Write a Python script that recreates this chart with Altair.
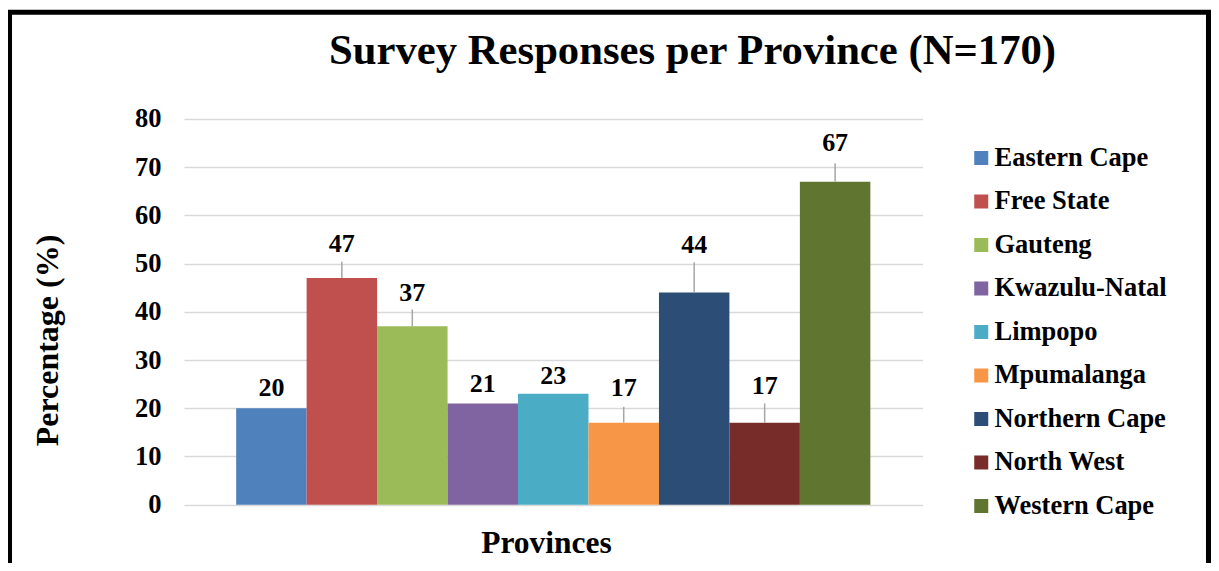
import altair as alt
import pandas as pd

provinces = ["Eastern Cape", "Free State", "Gauteng", "Kwazulu-Natal", "Limpopo",
             "Mpumalanga", "Northern Cape", "North West", "Western Cape"]
values = [20, 47, 37, 21, 23, 17, 44, 17, 67]
label_y = [22.6, 52.4, 42.3, 23.4, 25.0, 22.6, 52.2, 23.0, 73.3]
leader_top = [None, 50.4, 40.5, None, None, 20.3, 50.3, 21.0, 70.8]
colors = ["#4F81BD", "#C0504D", "#9BBB59", "#8064A2", "#4BACC6",
          "#F79646", "#2C4D75", "#772C2A", "#5F7530"]
title_text = "Survey Responses per Province (N=170)"
y_ticks = [0, 10, 20, 30, 40, 50, 60, 70, 80]

FONT = "Liberation Serif"

df = pd.DataFrame({
    "province": provinces,
    "value": values,
    "label_y": label_y,
    "leader_top": leader_top,
})

x_enc = alt.X("province:N", sort=provinces,
              scale=alt.Scale(paddingInner=0, paddingOuter=0.74),
              axis=alt.Axis(labels=False, ticks=False, domain=False, grid=False,
                            title="Provinces", titleFont=FONT, titleFontSize=31.5,
                            titleFontWeight="bold", titleColor="black",
                            titleX=362, titleY=48, titleBaseline="alphabetic",
                            titleAlign="center"))

y_enc = alt.Y("value:Q", scale=alt.Scale(domain=[0, 80], nice=False),
              axis=alt.Axis(values=y_ticks, grid=True, gridColor="#D9D9D9",
                            gridWidth=1.5, domain=False, ticks=False, tickSize=0,
                            labelFont=FONT, labelFontSize=26.5, labelFontWeight="bold",
                            labelColor="black", labelPadding=23,
                            title="Percentage (%)", titleFont=FONT, titleFontSize=32,
                            titleFontWeight="bold", titleColor="black",
                            titleAngle=270, titleX=-127, titleY=221,
                            titleAlign="center", titleBaseline="alphabetic"))

base = alt.Chart(df)

bars = base.mark_bar(stroke=None).encode(
    x=x_enc,
    y=y_enc,
    color=alt.Color("province:N", sort=provinces,
                    scale=alt.Scale(domain=provinces, range=colors),
                    legend=alt.Legend(orient="none", legendX=784, legendY=25.75,
                                      title=None, padding=0,
                                      symbolType="square", symbolSize=196,
                                      symbolStrokeWidth=0, labelOffset=0,
                                      labelFont=FONT, labelFontSize=26.5,
                                      labelFontWeight="bold", labelColor="black",
                                      labelLimit=0, rowPadding=16.5)),
)

leaders = base.transform_filter("isValid(datum.leader_top)").mark_rule(
    color="#A6A6A6", strokeWidth=1.5
).encode(
    x=alt.X("province:N", sort=provinces),
    y="value:Q",
    y2="leader_top:Q",
)

labels = base.mark_text(font=FONT, fontSize=26, fontWeight="bold",
                        color="black", baseline="alphabetic", align="center").encode(
    x=alt.X("province:N", sort=provinces),
    y=alt.Y("label_y:Q"),
    text=alt.Text("value:Q"),
)

one = pd.DataFrame({"t": [title_text]})

title = alt.Chart(one).mark_text(font=FONT, fontSize=42.7, fontWeight="bold",
                                 color="black", align="left",
                                 baseline="alphabetic").encode(
    x=alt.value(145), y=alt.value(-55), text="t:N"
)

frame = alt.Chart(one).mark_rect(fill="transparent", stroke="black",
                                 strokeWidth=5).encode(
    x=alt.value(-174.5), x2=alt.value(1024.5),
    y=alt.value(-106.8), y2=alt.value(460)
)

chart = alt.layer(bars, leaders, labels, title, frame).properties(
    width=738.5, height=385.7,
    autosize=alt.AutoSizeParams(type="none"),
    padding={"left": 176, "top": 111, "right": 288.5, "bottom": 58},
).configure(background="white").configure_view(stroke=None)

chart.save("out.html", embed_options={"renderer": "svg", "actions": False})
